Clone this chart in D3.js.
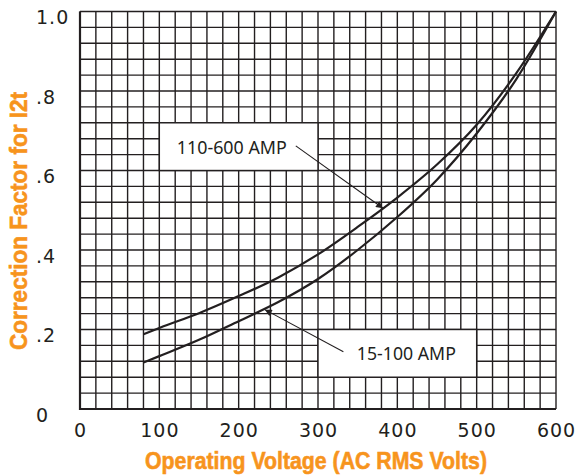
<!DOCTYPE html>
<html>
<head>
<meta charset="utf-8">
<script src="https://cdn.jsdelivr.net/npm/d3@7"></script>
<style>
  body { margin: 0; background: #fff; }
  svg { display: block; }
</style>
</head>
<body>
<svg width="581" height="475"></svg>
<script>
// Curve readings (volts vs correction factor)
const voltage = [80, 100, 150, 200, 250, 300, 350, 400, 450, 500, 550, 600];
const factor110to600 = [0.188, 0.204, 0.241, 0.284, 0.331, 0.389, 0.458, 0.532, 0.615, 0.715, 0.845, 1.0];
const factor15to100 = [0.117, 0.133, 0.174, 0.221, 0.269, 0.327, 0.400, 0.483, 0.577, 0.693, 0.830, 1.0];

const xTicks = [0, 100, 200, 300, 400, 500, 600];
const yTicks = [0, 0.2, 0.4, 0.6, 0.8, 1.0];
const yTickLabels = ["0", ".2", ".4", ".6", ".8", "1.0"];

// label boxes: [x0, x1, y0, y1] in data units, text anchor, arrow from/to
const labelBoxes = [
    { name: "110-600 AMP", box: [100, 300, 0.60, 0.72], text: [122, 0.641], len: 110, from: [272, 0.662], to: [382, 0.505] },
    { name: "15-100 AMP", box: [300, 500, 0.08, 0.20], text: [349, 0.123], len: 99, from: [332, 0.144], to: [233, 0.250] }
];

const ink = "#231f20", orange = "#f7941d";

const svg = d3.select("svg"),
    margin = { top: 11.5, right: 25, bottom: 66, left: 80 },
    width = +svg.attr("width") - margin.left - margin.right,
    height = +svg.attr("height") - margin.top - margin.bottom;

const x = d3.scaleLinear().domain([0, 600]).range([margin.left, margin.left + width]);
const y = d3.scaleLinear().domain([0, 1]).range([margin.top + height, margin.top]);

svg.append("defs").append("marker")
    .attr("id", "arrow")
    .attr("viewBox", "0 0 10 10")
    .attr("refX", 10).attr("refY", 5)
    .attr("markerWidth", 8).attr("markerHeight", 7)
    .attr("markerUnits", "userSpaceOnUse")
    .attr("orient", "auto")
    .append("path")
    .attr("d", "M0,0L10,5L0,10z")
    .attr("fill", ink);

// Grid, every 20 V and 0.04
const grid = svg.append("g").attr("class", "grid");
grid.selectAll(".vline")
    .data(d3.range(0, 601, 20))
    .join("line")
    .attr("x1", d => x(d)).attr("x2", d => x(d))
    .attr("y1", y(0)).attr("y2", y(1))
    .attr("stroke", ink).attr("stroke-width", 1.4);
grid.selectAll(".hline")
    .data(d3.range(0, 26).map(i => i * 0.04))
    .join("line")
    .attr("x1", x(0)).attr("x2", x(600))
    .attr("y1", d => y(d)).attr("y2", d => y(d))
    .attr("stroke", ink).attr("stroke-width", 1.4);

// heavier left and bottom edges
svg.append("line")
    .attr("x1", x(0)).attr("x2", x(0)).attr("y1", y(0) + 1).attr("y2", y(1))
    .attr("stroke", ink).attr("stroke-width", 2.2);
svg.append("line")
    .attr("x1", x(0) - 1).attr("x2", x(600)).attr("y1", y(0)).attr("y2", y(0))
    .attr("stroke", ink).attr("stroke-width", 2.2);

// Label boxes
labelBoxes.forEach(b => {
    svg.append("rect")
        .attr("x", x(b.box[0])).attr("y", y(b.box[3]))
        .attr("width", x(b.box[1]) - x(b.box[0]))
        .attr("height", y(b.box[2]) - y(b.box[3]))
        .attr("fill", "#fff")
        .attr("stroke", ink).attr("stroke-width", 1.4);
});

// Curves
const line = d3.line()
    .x(d => x(d[0]))
    .y(d => y(d[1]))
    .curve(d3.curveMonotoneX);

[factor110to600, factor15to100].forEach(series => {
    svg.append("path")
        .datum(voltage.map((v, i) => [v, series[i]]))
        .attr("fill", "none")
        .attr("stroke", ink)
        .attr("stroke-width", 2.2)
        .attr("d", line);
});

// Label text and leaders
labelBoxes.forEach(b => {
    svg.append("text")
        .attr("x", x(b.text[0])).attr("y", y(b.text[1]))
        .attr("font-family", "'Noto Sans', sans-serif")
        .attr("font-size", 18)
        .attr("textLength", b.len)
        .attr("lengthAdjust", "spacingAndGlyphs")
        .attr("fill", ink)
        .text(b.name);
    svg.append("line")
        .attr("x1", x(b.from[0])).attr("y1", y(b.from[1]))
        .attr("x2", x(b.to[0])).attr("y2", y(b.to[1]))
        .attr("stroke", ink).attr("stroke-width", 1.1)
        .attr("marker-end", "url(#arrow)");
});

// Axes
const xAxis = svg.append("g")
    .attr("transform", `translate(0,${y(0) + 11})`)
    .call(d3.axisBottom(x).tickValues(xTicks).tickSize(0).tickFormat(d3.format("d")));
xAxis.select(".domain").remove();
xAxis.selectAll("text")
    .attr("font-family", "'DejaVu Sans', sans-serif")
    .attr("font-size", 19)
    .attr("letter-spacing", 1)
    .attr("fill", ink);

const yAxis = svg.append("g")
    .call(d3.axisLeft(y).tickValues(yTicks).tickSize(0).tickFormat((d, i) => yTickLabels[i]));
yAxis.select(".domain").remove();
yAxis.selectAll("text")
    .attr("x", 36)
    .attr("dy", "0.65em")
    .attr("text-anchor", "start")
    .attr("font-family", "'DejaVu Sans', sans-serif")
    .attr("font-size", 19)
    .attr("letter-spacing", 1)
    .attr("fill", ink);

// Axis titles
svg.append("text")
    .attr("x", 316).attr("y", 469)
    .attr("text-anchor", "middle")
    .attr("font-family", "'Liberation Sans', sans-serif")
    .attr("font-weight", "bold")
    .attr("font-size", 24)
    .attr("textLength", 342)
    .attr("lengthAdjust", "spacingAndGlyphs")
    .attr("fill", orange)
    .attr("stroke", orange).attr("stroke-width", 0.6)
    .text("Operating Voltage (AC RMS Volts)");

svg.append("text")
    .attr("transform", "translate(27,221) rotate(-90)")
    .attr("text-anchor", "middle")
    .attr("font-family", "'Liberation Sans', sans-serif")
    .attr("font-weight", "bold")
    .attr("font-size", 24)
    .attr("textLength", 258)
    .attr("lengthAdjust", "spacingAndGlyphs")
    .attr("fill", orange)
    .attr("stroke", orange).attr("stroke-width", 0.6)
    .text("Correction Factor for I2t");
</script>
</body>
</html>
